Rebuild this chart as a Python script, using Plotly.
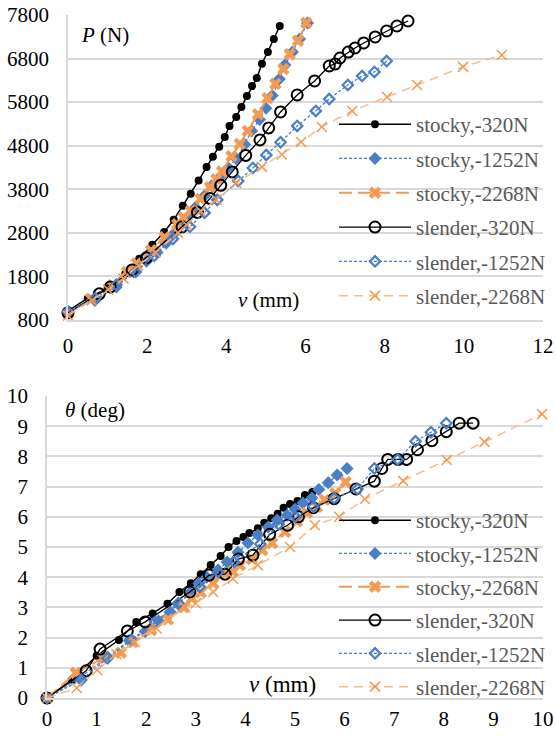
import plotly.graph_objects as go

W, H = 556, 737

# ---- measured series: lateral displacement v (mm), load P (N), rotation theta (deg)
v_stocky_320 = [0, 0.5, 1.0, 1.45, 1.8, 2.13, 2.43, 2.67, 2.9, 3.1, 3.3, 3.5, 3.66,
                3.82, 3.96, 4.08, 4.25, 4.38, 4.52, 4.65, 4.77, 4.9, 5.05, 5.2, 5.35]
P_stocky_320 = [1010, 1300, 1530, 1870, 2205, 2525, 2820, 3100, 3420, 3695, 4000, 4310, 4545,
                4775, 5000, 5255, 5460, 5690, 5940, 6170, 6355, 6680, 6950, 7250, 7548]
th_stocky_320 = [0, 0.6, 1.4, 1.92, 2.52, 2.8, 3.12, 3.51, 3.8, 4.1, 4.4, 4.7, 5.0,
                 5.2, 5.33, 5.46, 5.62, 5.8, 5.95, 6.1, 6.3, 6.42, 6.52, 6.72, 6.82]

v_stocky_1252 = [0, 0.68, 1.22, 1.66, 1.98, 2.25, 2.48, 2.64, 2.88, 3.06, 3.22, 3.45, 3.63,
                 3.85, 4.05, 4.25, 4.46, 4.64, 4.84, 5.0, 5.16, 5.34, 5.48, 5.67, 5.85, 6.05]
P_stocky_1252 = [1000, 1250, 1560, 1900, 2150, 2350, 2560, 2750, 3000, 3200, 3380, 3650, 3880,
                 4085, 4290, 4500, 4830, 5140, 5400, 5660, 5950, 6330, 6650, 6950, 7250, 7615]
th_stocky_1252 = [0, 0.7, 1.36, 1.9, 2.2, 2.55, 2.85, 3.12, 3.48, 3.8, 4.0, 4.24, 4.5,
                  4.83, 5.13, 5.4, 5.66, 5.89, 6.05, 6.25, 6.46, 6.62, 6.9, 7.13, 7.38, 7.6]

v_stocky_2268 = [0, 0.58, 1.13, 1.49, 1.73, 2.1, 2.44, 2.76, 2.92, 3.1, 3.35, 3.59, 3.75,
                 3.89, 4.13, 4.34, 4.54, 4.8, 5.04, 5.24, 5.44, 5.6, 5.81, 6.02]
P_stocky_2268 = [950, 1290, 1600, 1900, 2100, 2400, 2700, 3000, 3150, 3300, 3580, 3850, 4030,
                 4210, 4560, 4840, 5140, 5520, 5890, 6220, 6560, 6900, 7210, 7617]
th_stocky_2268 = [0, 0.83, 1.32, 1.5, 1.85, 2.25, 2.6, 3.0, 3.3, 3.5, 3.8, 4.12, 4.18,
                  4.4, 4.6, 4.9, 5.13, 5.5, 5.85, 6.13, 6.33, 6.56, 6.78, 7.15]

v_slender_320 = [0, 0.79, 1.07, 1.62, 1.98, 2.88, 3.27, 3.59, 3.86, 4.15, 4.49, 4.85, 5.07,
                 5.37, 5.79, 6.23, 6.6, 6.75, 6.87, 7.08, 7.25, 7.47, 7.76, 8.05, 8.31, 8.59]
P_slender_320 = [965, 1400, 1560, 1950, 2227, 2938, 3270, 3590, 3890, 4199, 4578, 4933, 5208,
                 5575, 5965, 6286, 6630, 6676, 6813, 6950, 7043, 7158, 7296, 7433, 7548, 7662]
th_slender_320 = [0, 0.9, 1.62, 2.22, 2.52, 3.51, 4.07, 4.1, 4.6, 4.73, 5.42, 5.72, 6.0,
                  6.3, 6.6, 6.92, 7.18, 7.6, 7.9, 7.9, 7.9, 8.22, 8.52, 8.82, 9.1, 9.1]

v_slender_1252 = [0, 0.69, 1.22, 1.71, 2.18, 2.65, 3.08, 3.45, 3.77, 4.3, 4.67, 5.01, 5.37,
                  5.79, 6.26, 6.6, 7.07, 7.43, 7.74, 8.05]
P_slender_1252 = [990, 1300, 1607, 1905, 2273, 2662, 2938, 3259, 3557, 3990, 4290, 4589, 4880,
                  5255, 5598, 5873, 6195, 6400, 6493, 6745]
th_slender_1252 = [0, 0.6, 1.32, 1.92, 2.52, 3.14, 3.68, 4.17, 4.5, 5.1, 5.75, 6.0, 6.33,
                   6.62, 6.92, 7.6, 7.9, 8.5, 8.8, 9.1]

v_slender_2268 = [0, 0.6, 1.01, 1.4, 1.77, 2.21, 2.78, 3.0, 3.35, 3.75, 4.25, 4.9, 5.4,
                  5.89, 6.41, 7.18, 8.06, 8.82, 9.98, 10.96]
P_slender_2268 = [900, 1250, 1500, 1750, 2050, 2350, 2800, 2980, 3300, 3560, 3947, 4314, 4600,
                  4887, 5231, 5598, 5920, 6195, 6610, 6883]
th_slender_2268 = [0, 0.33, 0.93, 1.45, 1.85, 2.3, 3.0, 3.14, 3.51, 3.95, 4.4, 5.0, 5.72,
                   6.0, 6.59, 7.19, 7.88, 8.48, 9.4, None]

names = ["stocky,-320N", "stocky,-1252N", "stocky,-2268N",
         "slender,-320N", "slender,-1252N", "slender,-2268N"]

BLACK = "#000000"
BLUE = "#4A7EC6"
ORANGE = "#F39B52"
LIGHT_ORANGE = "#F7BC8E"

series = [
    dict(v=v_stocky_320, P=P_stocky_320, th=th_stocky_320,
         line=dict(color=BLACK, width=1.5),
         marker=dict(symbol="circle", size=8, color=BLACK)),
    dict(v=v_stocky_1252, P=P_stocky_1252, th=th_stocky_1252,
         line=dict(color=BLUE, width=1.3, dash="3px,2px"),
         marker=dict(symbol="diamond", size=10, color=BLUE)),
    dict(v=v_stocky_2268, P=P_stocky_2268, th=th_stocky_2268,
         line=dict(color=ORANGE, width=2, dash="13px,6px"),
         marker=dict(symbol="x", size=11, color=ORANGE)),
    dict(v=v_slender_320, P=P_slender_320, th=th_slender_320,
         line=dict(color=BLACK, width=1.3),
         marker=dict(symbol="circle-open", size=11, color=BLACK, line=dict(width=2))),
    dict(v=v_slender_1252, P=P_slender_1252, th=th_slender_1252,
         line=dict(color=BLUE, width=1.3, dash="3px,2px"),
         marker=dict(symbol="diamond-open", size=8, color=BLUE, line=dict(width=2.2))),
    dict(v=v_slender_2268, P=P_slender_2268, th=th_slender_2268,
         line=dict(color=LIGHT_ORANGE, width=1.5, dash="9px,6px"),
         marker=dict(symbol="x-thin-open", size=10, color=ORANGE, line=dict(width=1.5))),
]

fig = go.Figure()
for i, (name, s) in enumerate(zip(names, series)):
    fig.add_trace(go.Scatter(
        x=s["v"], y=s["P"], name=name, mode="lines+markers",
        line=s["line"], marker=s["marker"], xaxis="x", yaxis="y",
        legend="legend", legendgroup=f"top{i}", cliponaxis=False))
for i, (name, s) in enumerate(zip(names, series)):
    fig.add_trace(go.Scatter(
        x=s["v"], y=s["th"], name=name, mode="lines+markers",
        line=s["line"], marker=s["marker"], xaxis="x2", yaxis="y2",
        legend="legend2", legendgroup=f"bot{i}", cliponaxis=False,
        connectgaps=False))

SERIF = "Liberation Serif"
GRID = "#d9d9d9"
tick_font = dict(family=SERIF, size=21, color="#000000")
leg_font = dict(family=SERIF, size=21, color="#595959")


def px_x(p):
    return p / W


def px_y(p):
    return 1 - p / H


common_x = dict(showgrid=False, zeroline=False, showline=True, linecolor=GRID, linewidth=1.5,
                ticks="", tickfont=tick_font, automargin=False)
common_y = dict(showgrid=True, gridcolor=GRID, gridwidth=1.5, zeroline=False, showline=True,
                linecolor=GRID, linewidth=1.5, ticks="", tickfont=tick_font, ticklabelstandoff=13,
                automargin=False)

fig.update_layout(
    width=W, height=H,
    margin=dict(l=0, r=0, t=0, b=0, autoexpand=False),
    paper_bgcolor="white", plot_bgcolor="white",
    font=dict(family=SERIF),
    xaxis=dict(domain=[px_x(68), px_x(543)], anchor="y", range=[0, 12], dtick=2,
               ticklabelstandoff=6, **common_x),
    yaxis=dict(domain=[px_y(320), px_y(15)], anchor="x", range=[800, 7800],
               tick0=800, dtick=1000, **common_y),
    xaxis2=dict(domain=[px_x(47), px_x(543)], anchor="y2", range=[0, 10], dtick=1,
                ticklabelstandoff=1, **common_x),
    yaxis2=dict(domain=[px_y(698), px_y(396)], anchor="x2", range=[0, 10], dtick=1, **common_y),
    legend=dict(x=px_x(334), y=px_y(104), xanchor="left", yanchor="top",
                bgcolor="rgba(0,0,0,0)", font=leg_font, itemwidth=72,
                traceorder="grouped", tracegroupgap=4, itemclick=False),
    legend2=dict(x=px_x(334), y=px_y(500), xanchor="left", yanchor="top",
                 bgcolor="rgba(0,0,0,0)", font=leg_font, itemwidth=72,
                 traceorder="grouped", tracegroupgap=3, itemclick=False),
    showlegend=True,
)

label_font = dict(family=SERIF, size=21, color="#000000")
fig.add_annotation(text="<i>P</i> (N)", x=px_x(79), y=px_y(35), xref="paper", yref="paper",
                   xanchor="left", yanchor="middle", showarrow=False, font=label_font)
fig.add_annotation(text="<i>v</i> (mm)", x=px_x(268), y=px_y(300), xref="paper", yref="paper",
                   xanchor="center", yanchor="middle", showarrow=False, font=label_font)
fig.add_annotation(text="<i>θ</i> (deg)", x=px_x(63), y=px_y(410), xref="paper", yref="paper",
                   xanchor="left", yanchor="middle", showarrow=False, font=label_font)
fig.add_annotation(text="<i>v</i> (mm)", x=px_x(282), y=px_y(684), xref="paper", yref="paper",
                   xanchor="center", yanchor="middle", showarrow=False,
                   font=dict(family=SERIF, size=23, color="#000000"))

fig.write_html("out.html")
